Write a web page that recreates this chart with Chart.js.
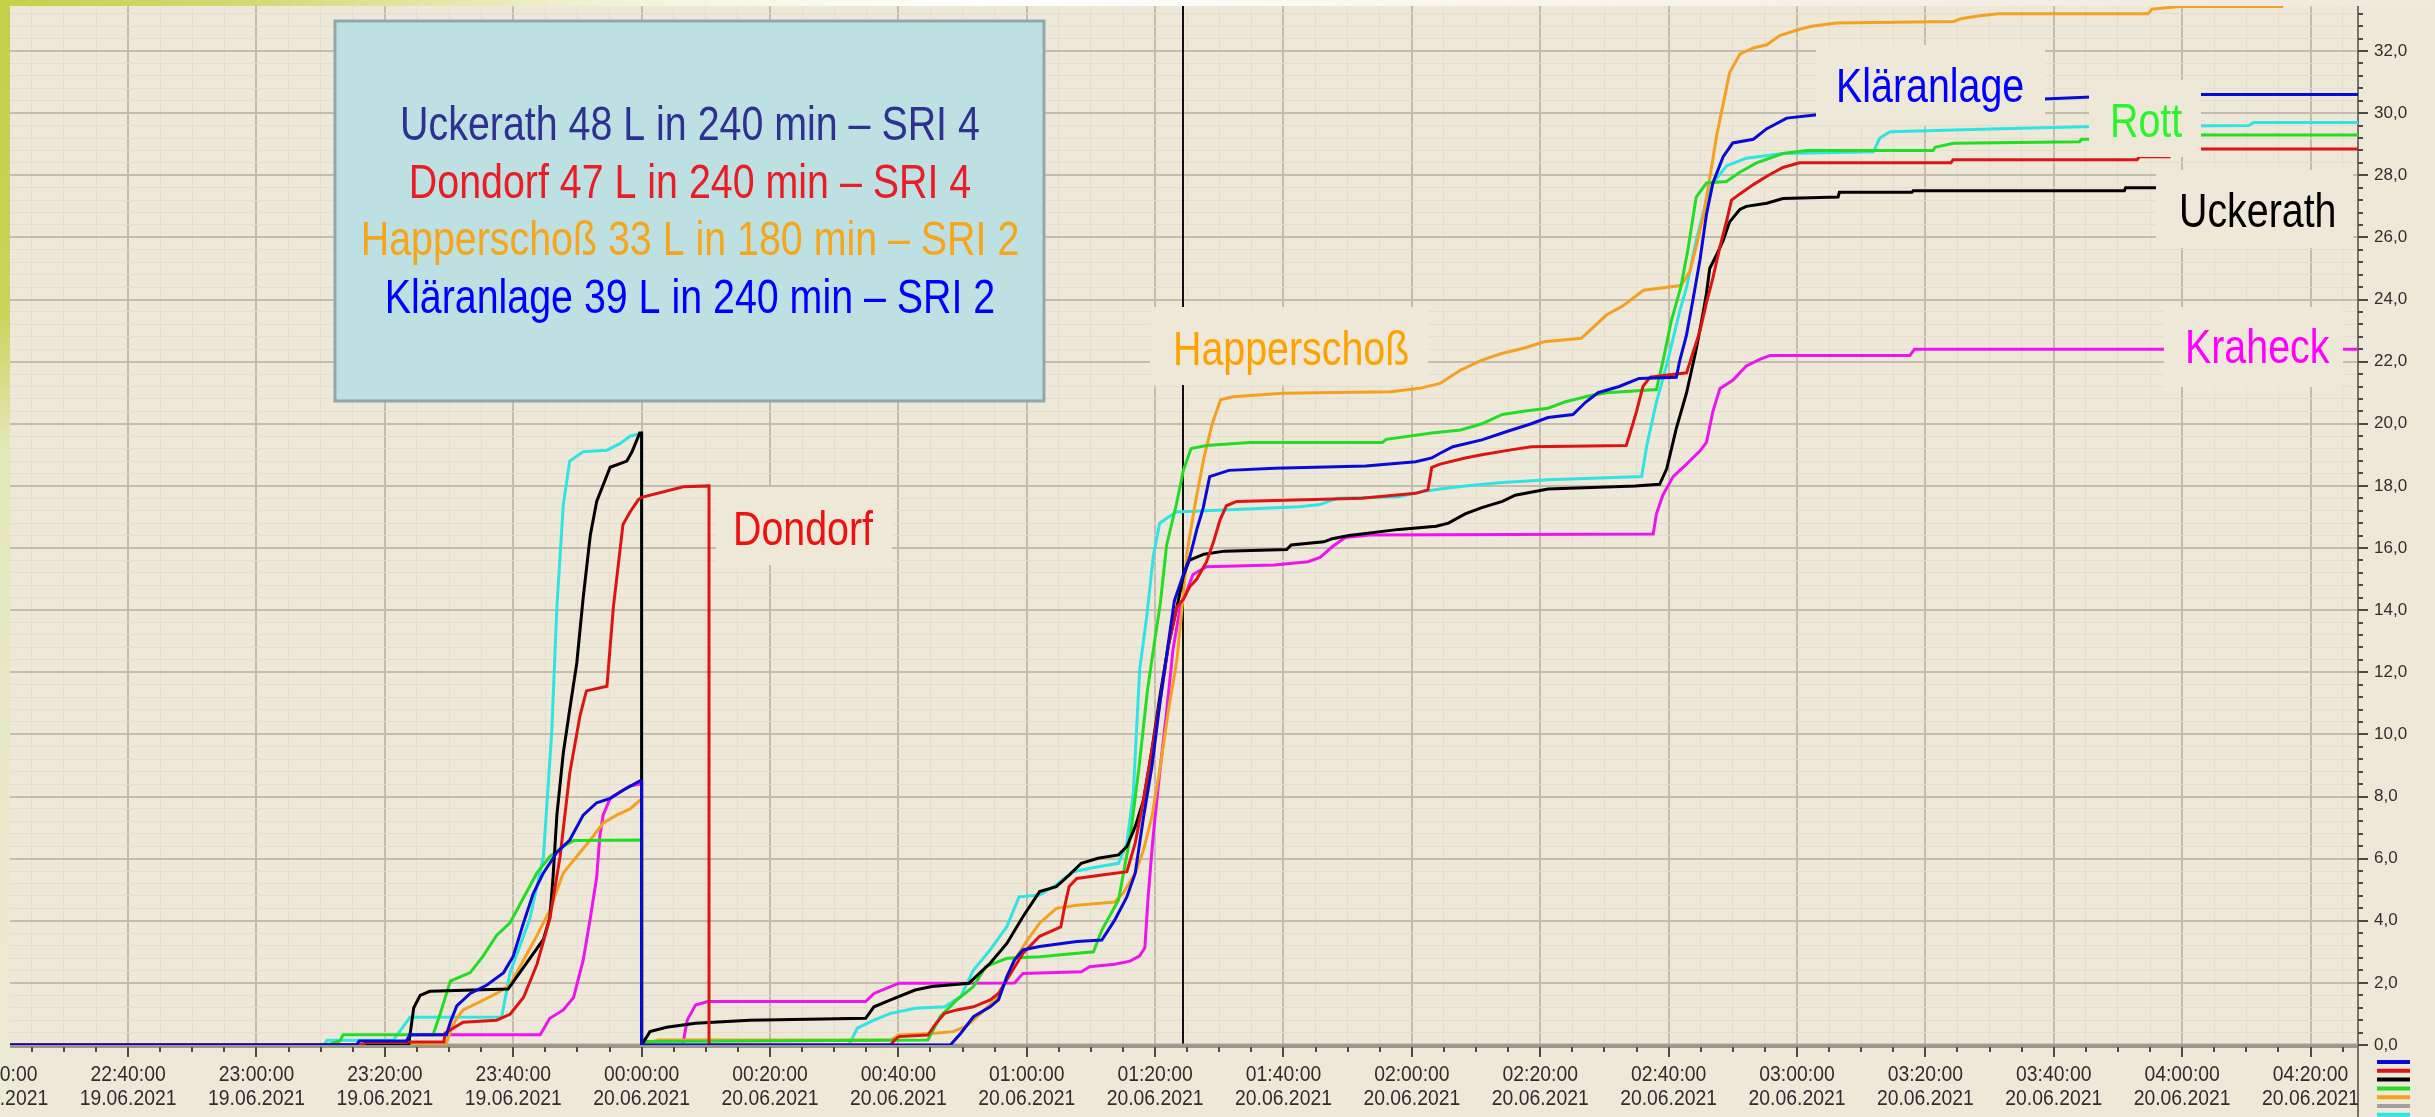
<!DOCTYPE html>
<html>
<head>
<meta charset="utf-8">
<title>Niederschlag 19./20.06.2021</title>
<script src="https://cdn.jsdelivr.net/npm/chart.js@4.4.1/dist/chart.umd.min.js"></script>
<style>
  html, body { margin: 0; padding: 0; background: #eee8d9; overflow: hidden; }
  #wrap { width: 2435px; height: 1117px; }
</style>
</head>
<body>
<div id="wrap"><canvas id="chart" width="2435" height="1117"></canvas></div>
<script>
// Zeit = Minuten relativ zu 20.06.2021 00:00 (negativ = 19.06.), Wert = Summe in mm
const klaeranlage = [[-98.4,0],[-44.4,0],[-44,0.13],[-36.6,0.13],[-36.1,0.33],[-30.4,0.33],[-29.8,0.73],[-28.8,1.26],[-26.7,1.66],[-24.1,1.93],[-21.5,2.33],[-20,2.86],[-18.4,3.93],[-16.9,4.87],[-15.3,5.54],[-13.2,6.2],[-11.2,6.6],[-9.1,7.4],[-7,7.8],[-4.9,7.94],[-2.9,8.2],[-0.3,8.5],[0,8.5],[0,0],[48.1,0],[49.7,0.37],[51.7,0.91],[54.3,1.23],[55.6,1.45],[56.9,2.2],[58.1,2.74],[59.4,3.06],[62,3.17],[67.8,3.33],[71.7,3.38],[73.7,4.02],[75.6,4.77],[76.9,5.53],[78.2,7.35],[79.5,8.96],[80.8,11.1],[82.1,13],[83,14.3],[84.4,15.15],[85.4,15.7],[86.5,16.6],[87.5,17.3],[88.5,18.3],[91.5,18.5],[98.6,18.57],[112.8,18.64],[120.6,18.78],[123.1,18.9],[124.4,19.05],[126.4,19.26],[130.9,19.48],[134.8,19.75],[138.6,20],[141.2,20.2],[145.1,20.3],[147.1,20.7],[149,21],[152.3,21.2],[155.4,21.46],[161.2,21.5],[161.7,22],[162.8,22.87],[163.8,24],[164.9,25.3],[165.9,26.75],[166.9,27.75],[168.5,28.6],[170,29.04],[173.2,29.16],[175.3,29.5],[178.4,29.84],[182.8,29.94],[190,30],[200,30.2],[212,30.4],[235,30.6],[267.4,30.6]];

const dondorf = [[-98.4,0],[-43.3,0],[-43,0.1],[-30.8,0.1],[-30.6,0.39],[-27.8,0.73],[-22.6,0.8],[-20.5,0.99],[-18.4,1.53],[-16.3,2.6],[-14.3,4.07],[-12.7,6.07],[-11.2,8.74],[-9.6,10.6],[-8.6,11.4],[-5.4,11.55],[-4.4,14.1],[-2.9,16.76],[-1.8,17.16],[-0.5,17.56],[0,17.63],[6.5,17.97],[10.5,18],[10.5,0],[38.8,0],[39.4,0.16],[40.1,0.27],[44.6,0.32],[45.9,0.7],[47.2,1.02],[49.1,1.13],[51.7,1.23],[54.3,1.45],[55.6,1.66],[57.5,2.3],[59.4,2.95],[62,3.5],[65.3,3.8],[65.9,4.45],[66.6,5.1],[67.8,5.36],[71.7,5.47],[75.6,5.58],[76.9,6.5],[78.2,7.9],[79.5,9.5],[80.8,11.1],[82.1,12.9],[83.4,14.1],[84.4,14.35],[85.4,14.75],[86.5,15],[88,15.55],[89.1,16.2],[90.1,16.9],[91.1,17.36],[92.7,17.5],[112.2,17.6],[120.6,17.76],[122.5,17.87],[123.1,18.6],[124.4,18.7],[128.3,18.9],[130.9,19],[135.4,19.16],[138.6,19.26],[153.4,19.3],[154,19.7],[155,20.4],[156,21.2],[157.1,21.5],[162.8,21.64],[163.8,22.3],[164.9,23],[165.9,23.9],[166.9,24.7],[168,25.7],[169,26.5],[169.8,27.2],[171.1,27.4],[173.2,27.7],[175.3,27.97],[177.8,28.25],[180.4,28.4],[204,28.4],[204.3,28.5],[233,28.5],[233.3,28.6],[238,28.6],[238.3,28.85],[267.4,28.85]];

const uckerath = [[-98.4,0],[-36.3,0],[-35.5,1.2],[-34.5,1.6],[-33,1.73],[-20.8,1.8],[-18.4,2.5],[-15.3,3.4],[-14.3,4.1],[-13.8,5.4],[-13.2,7.4],[-12.2,9.4],[-11.2,10.8],[-10.1,12.3],[-9.1,14.4],[-8,16.4],[-7,17.5],[-4.9,18.6],[-2.3,18.8],[-1.5,19.1],[-0.3,19.7],[0,19.7],[0,0],[1.3,0.43],[3.9,0.57],[8.4,0.7],[16.8,0.8],[34.9,0.86],[36.2,1.23],[38.8,1.45],[42.6,1.77],[45.2,1.88],[51,1.99],[54.3,2.63],[56.9,3.27],[59.4,4.13],[62,4.94],[64.6,5.1],[66.6,5.47],[68.5,5.85],[71.1,6.01],[74.3,6.12],[75.6,6.39],[76.9,7.03],[78.2,7.89],[79.5,9.5],[80.8,11.3],[82.1,12.9],[83.4,14.1],[84.4,15.1],[85.3,15.6],[87.6,15.8],[90.8,15.9],[100.5,15.95],[101.2,16.1],[106.3,16.2],[107.6,16.3],[110.2,16.4],[118,16.6],[123.8,16.7],[125.7,16.8],[128.3,17.1],[130.9,17.3],[134.1,17.5],[136.1,17.7],[141.2,17.9],[154.8,18],[158.6,18.05],[159.7,18.55],[161.2,19.85],[162.8,21],[164.3,22.4],[165.4,23.6],[165.9,24.2],[166.4,25],[167.5,25.45],[168.5,25.9],[169.5,26.5],[171.1,26.9],[172.1,27],[175.3,27.1],[177.8,27.25],[186.4,27.3],[186.6,27.45],[197.9,27.45],[198.1,27.5],[231,27.5],[231.2,27.6],[242,27.6]];

const rott = [[-98.4,0],[-49,0],[-47,0.13],[-46.5,0.33],[-32.5,0.33],[-31.4,0.99],[-29.8,2.06],[-26.7,2.33],[-24.7,2.86],[-22.6,3.53],[-20.5,3.93],[-18.4,4.74],[-16.3,5.54],[-14.3,6.07],[-12.2,6.4],[-10.6,6.58],[0,6.6],[0,0],[0.6,0.11],[44.6,0.16],[46.5,0.91],[49.1,1.45],[51.7,1.88],[53.6,2.52],[56.9,2.79],[62,2.84],[70.4,3],[71.7,3.7],[74.3,4.67],[76.2,6.8],[77.5,8.96],[78.8,11.4],[80.1,13.25],[80.8,14.2],[81.8,16.1],[83.3,17.4],[84.4,18.5],[85.6,19.2],[88,19.3],[94.7,19.4],[115.4,19.4],[116,19.5],[123.1,19.7],[127.6,19.8],[130.9,20],[134.1,20.3],[137.4,20.4],[141.2,20.5],[143.8,20.7],[147.7,20.9],[150.3,21],[158.1,21.1],[159.2,22.1],[160.4,23.3],[161.9,24.4],[163,25.6],[164.3,27.3],[165.9,27.75],[169,27.8],[171.1,28.1],[173.7,28.4],[177.8,28.7],[181.5,28.8],[201.2,28.8],[201.5,28.9],[204.4,29.03],[224,29.08],[224.3,29.16],[230,29.16],[230.3,29.3],[267.4,29.3]];

const happerschoss = [[-98.4,0],[-30.5,0],[-29.5,0.6],[-28.8,0.86],[-27.8,1.13],[-25.2,1.39],[-22.6,1.66],[-20.5,1.93],[-18.4,2.73],[-16.3,3.53],[-14.3,4.33],[-12.2,5.54],[-10.1,6.07],[-8,6.6],[-6,7.14],[-3.9,7.4],[-1.8,7.6],[-0.3,7.87],[0,7.87],[0,0],[2.6,0.16],[38.8,0.16],[40.1,0.32],[45.2,0.37],[48.5,0.43],[50.4,0.59],[51.7,0.8],[55.6,1.56],[58.1,2.74],[60.1,3.38],[62,3.92],[64.6,4.4],[67.8,4.5],[73.7,4.6],[75,4.88],[76.9,5.53],[78.2,6.28],[79.5,7.35],[80.8,8.96],[82.1,10.8],[83.4,12.4],[84.3,14.3],[85,15.9],[86.3,17.5],[87.6,18.9],[88.9,20],[90.2,20.77],[92.1,20.87],[99.9,20.98],[116.7,21.03],[121.2,21.14],[124.4,21.3],[127.6,21.73],[130.9,22.05],[134.1,22.27],[137.4,22.43],[140.6,22.64],[146.4,22.75],[147.7,23],[150.3,23.5],[152.9,23.8],[156.1,24.3],[161.9,24.45],[163.3,24.9],[164.3,25.7],[165.4,26.7],[166.4,27.9],[167.5,29.3],[168.5,30.3],[169.5,31.3],[171.1,31.9],[173.2,32.1],[175.3,32.2],[177.3,32.5],[180.4,32.7],[182.3,32.8],[186.1,32.9],[204.4,32.95],[205.7,33.05],[208.2,33.13],[211.3,33.2],[234.7,33.2],[235.3,33.35],[239.7,33.43],[255.5,33.43],[256,33.8],[267.4,33.8]];

const grauReihe = [[-98.4,0],[267.4,0]];

const tuerkisReihe = [[-98.4,0],[-49.5,0],[-49,0.15],[-38.7,0.15],[-36.1,0.89],[-21.8,0.9],[-20.5,2.33],[-17.4,4.07],[-15.3,6.07],[-14,10.08],[-13.2,14.1],[-12.2,17.4],[-11.2,18.8],[-9.1,19.1],[-5.4,19.15],[-3.4,19.36],[-1.8,19.6],[0,19.7],[0,0],[32.3,0],[33.6,0.54],[36.2,0.8],[38.8,1.02],[42.6,1.18],[47.2,1.23],[49.7,1.56],[51.7,2.41],[54.3,3.06],[56.9,3.81],[58.8,4.77],[62,4.83],[64.6,5.15],[67.2,5.58],[71.1,5.74],[74.3,5.85],[75.6,6.5],[76.6,8.1],[77.6,12.1],[78.7,13.8],[79.7,15.7],[80.7,16.8],[81.8,16.96],[83.3,17.16],[102.5,17.33],[105.7,17.4],[108.3,17.6],[118,17.65],[121.2,17.8],[124.4,17.9],[128.3,18],[133.5,18.1],[141.2,18.2],[155.8,18.3],[156.6,19.3],[158.1,20.7],[159.7,21.9],[161.7,23.6],[162.8,24.4],[164.3,25.9],[165.9,27.2],[166.9,27.75],[169,28.3],[172.1,28.55],[177.8,28.7],[191.9,28.76],[192.9,29.2],[194.5,29.4],[211.6,29.5],[224.6,29.56],[250.4,29.6],[251.1,29.7],[267.4,29.7]];

const kraheck = [[-98.4,0],[-37,0],[-36.1,0.33],[-15.8,0.33],[-14.3,0.86],[-12.2,1.13],[-10.6,1.53],[-9.1,2.73],[-8,4.07],[-7,5.4],[-6.5,6.74],[-6,7.4],[-4.9,7.94],[-3.4,8.14],[-1.8,8.34],[-0.3,8.4],[0,8.4],[0,0],[6.4,0],[7.1,0.8],[8.4,1.29],[10.3,1.4],[34.9,1.4],[36.2,1.66],[38.8,1.88],[40.1,1.99],[58.1,2],[59.4,2.3],[68.5,2.36],[69.8,2.52],[73.7,2.6],[76.1,2.7],[77.6,2.87],[78.4,3.13],[78.9,4.74],[79.7,6.74],[80.7,8.74],[81.8,10.75],[82.8,12.75],[83.9,14.09],[84.9,14.6],[85.9,15.15],[88,15.4],[98.6,15.45],[103.8,15.56],[105.7,15.7],[107.6,16.04],[109.6,16.34],[113.4,16.42],[157.6,16.45],[158.1,17.1],[159.1,17.7],[160.7,18.3],[162.8,18.7],[164.9,19.13],[165.9,19.4],[166.9,20.4],[168,21.14],[170,21.4],[172.1,21.86],[174.2,22.07],[175.8,22.2],[197.6,22.2],[198.3,22.4],[267.4,22.4]];

const xTickTimes = ['22:20:00','22:40:00','23:00:00','23:20:00','23:40:00','00:00:00','00:20:00','00:40:00','01:00:00','01:20:00','01:40:00','02:00:00','02:20:00','02:40:00','03:00:00','03:20:00','03:40:00','04:00:00','04:20:00'];
const xTickDates = ['19.06.2021','19.06.2021','19.06.2021','19.06.2021','19.06.2021','20.06.2021','20.06.2021','20.06.2021','20.06.2021','20.06.2021','20.06.2021','20.06.2021','20.06.2021','20.06.2021','20.06.2021','20.06.2021','20.06.2021','20.06.2021','20.06.2021'];
const yTickLabels = ['0,0','2,0','4,0','6,0','8,0','10,0','12,0','14,0','16,0','18,0','20,0','22,0','24,0','26,0','28,0','30,0','32,0','34,0'];

const summaryLines = [
  ['Uckerath 48 L in 240 min \u2013 SRI 4', '#2e3192'],
  ['Dondorf 47 L in 240 min \u2013 SRI 4', '#ea1c24'],
  ['Happerscho\u00df 33 L in 180 min \u2013 SRI 2', '#f7a519'],
  ['Kl\u00e4ranlage 39 L in 240 min \u2013 SRI 2', '#0000ff']
];

const cursorTime = ['01:24:20', '20.06.2021'];

const BG = '#eee8d9';
const GRID_MAJOR = '#c4bcad';
const GRID_MINOR = '#e5ded0';
const FONT = '"Liberation Sans", Arial, Helvetica, sans-serif';

function toMinutes(time, date) {
  const p = time.split(':').map(Number);
  return p[0] * 60 + p[1] + (p[2] || 0) / 60 - (date === '19.06.2021' ? 1440 : 0);
}

function isMult(v, step) {
  return Math.abs(v / step - Math.round(v / step)) < 1e-6;
}

// Text leicht schmal gezogen, wie die Schrift im Original
function narrowText(ctx, text, x, y, size, color, align, squeeze, baseline) {
  ctx.save();
  ctx.font = size + 'px ' + FONT;
  ctx.fillStyle = color;
  ctx.textAlign = align;
  ctx.textBaseline = baseline || 'alphabetic';
  ctx.translate(x, y);
  ctx.scale(squeeze, 1);
  ctx.fillText(text, 0, 0);
  ctx.restore();
}

const series = [
  { label: 'Kläranlage', data: klaeranlage, color: '#0a0ad6' },
  { label: 'Dondorf', data: dondorf, color: '#dd1414' },
  { label: 'Uckerath', data: uckerath, color: '#000000' },
  { label: 'Rott', data: rott, color: '#22dd22' },
  { label: 'Happerschoß', data: happerschoss, color: '#f5a020' },
  { label: 'grau', data: grauReihe, color: '#a0a0a0' },
  { label: 'türkis', data: tuerkisReihe, color: '#2ee4e4' },
  { label: 'Kraheck', data: kraheck, color: '#ee14ee' }
];

// Beschriftungen mit Hintergrundkasten (Pixel im Bild)
const nameLabels = [
  { text: 'Dondorf', color: '#ee1111', box: [716, 487, 176, 78], tx: 733, ty: 545 },
  { text: 'Happerscho\u00df', color: '#ffa200', box: [1150, 307, 278, 78], tx: 1173, ty: 365 },
  { text: 'Kl\u00e4ranlage', color: '#0000ff', box: [1816, 45, 229, 80], tx: 1836, ty: 102 },
  { text: 'Rott', color: '#2af52a', box: [2089, 80, 112, 77], tx: 2110, ty: 137 },
  { text: 'Uckerath', color: '#000000', box: [2156, 170, 197, 78], tx: 2179, ty: 227 },
  { text: 'Kraheck', color: '#ff00ff', box: [2164, 307, 179, 80], tx: 2185, ty: 363 }
];

const decor = {
  id: 'decor',
  beforeDraw(chart) {
    const { ctx, width, height, chartArea: ca } = chart;
    ctx.save();
    ctx.fillStyle = BG;
    ctx.fillRect(0, 0, width, height);
    let g = ctx.createLinearGradient(0, 0, width, 0);
    g.addColorStop(0, '#c4d04a');
    g.addColorStop(0.1, '#d2da72');
    g.addColorStop(0.25, '#f1f3d8');
    g.addColorStop(0.4, '#ffffff');
    g.addColorStop(0.6, '#f8f6ee');
    g.addColorStop(1, '#efe9dc');
    ctx.fillStyle = g;
    ctx.fillRect(0, 0, width, ca.top);
    g = ctx.createLinearGradient(0, 0, 0, height);
    g.addColorStop(0, '#c4d04a');
    g.addColorStop(0.28, '#c9d45a');
    g.addColorStop(0.4, '#e3e8b8');
    g.addColorStop(1, '#ecebd8');
    ctx.fillStyle = g;
    ctx.fillRect(0, 0, ca.left, height);
    ctx.restore();
  },
  beforeDatasetsDraw(chart) {
    const { ctx, height, chartArea: ca } = chart;
    const xs = chart.scales.x;
    ctx.save();
    // Achsenlinien
    ctx.strokeStyle = '#9d978a';
    ctx.lineWidth = 4;
    ctx.beginPath();
    ctx.moveTo(ca.left, ca.bottom + 1);
    ctx.lineTo(ca.right, ca.bottom + 1);
    ctx.stroke();
    ctx.strokeStyle = '#77726a';
    ctx.lineWidth = 2;
    ctx.beginPath();
    ctx.moveTo(ca.right, ca.top);
    ctx.lineTo(ca.right, height);
    ctx.stroke();
    // Cursorlinie
    const cx = Math.round(xs.getPixelForValue(toMinutes(cursorTime[0], cursorTime[1])));
    ctx.strokeStyle = '#111111';
    ctx.lineWidth = 2;
    ctx.beginPath();
    ctx.moveTo(cx, ca.top);
    ctx.lineTo(cx, ca.bottom);
    ctx.stroke();
    ctx.restore();
  },
  afterDatasetsDraw(chart) {
    const { ctx, chartArea: ca } = chart;
    const xs = chart.scales.x, ys = chart.scales.y;
    ctx.save();

    // Namensschilder
    nameLabels.forEach(l => {
      ctx.fillStyle = BG;
      ctx.fillRect(l.box[0], l.box[1], l.box[2], l.box[3]);
      narrowText(ctx, l.text, l.tx, l.ty, 48, l.color, 'left', 0.82);
    });

    // Infokasten
    ctx.fillStyle = '#bde0e3';
    ctx.fillRect(335, 21, 709, 380);
    ctx.strokeStyle = '#8fa8ac';
    ctx.lineWidth = 3;
    ctx.strokeRect(335, 21, 709, 380);
    summaryLines.forEach((s, i) => {
      narrowText(ctx, s[0], 690, 140 + i * 57.5, 48, s[1], 'center', 0.82);
    });

    // x-Ticks
    ctx.strokeStyle = '#4e4a43';
    ctx.lineWidth = 2;
    for (let v = -95; v <= 265; v += 5) {
      const px = Math.round(xs.getPixelForValue(v));
      const len = isMult(v, 20) ? 10 : 5;
      ctx.beginPath();
      ctx.moveTo(px, ca.bottom + 2);
      ctx.lineTo(px, ca.bottom + 2 + len);
      ctx.stroke();
    }
    xTickTimes.forEach((t, i) => {
      const px = xs.getPixelForValue(toMinutes(t, xTickDates[i]));
      narrowText(ctx, t, px, 1075, 22, '#2e2e2e', 'center', 0.88, 'middle');
      narrowText(ctx, xTickDates[i], px, 1099, 22, '#2e2e2e', 'center', 0.88, 'middle');
    });

    // y-Ticks
    for (let i = 0; i * 0.4 <= ys.max; i++) {
      const py = Math.round(ys.getPixelForValue(i * 0.4));
      const len = i % 5 === 0 ? 10 : 5;
      ctx.beginPath();
      ctx.moveTo(ca.right, py);
      ctx.lineTo(ca.right + len, py);
      ctx.stroke();
    }
    yTickLabels.forEach((t, i) => {
      const py = ys.getPixelForValue(i * 2);
      narrowText(ctx, t, ca.right + 16, py, 17, '#2e2e2e', 'left', 1, 'middle');
    });

    // kleine Legende unten rechts
    chart.data.datasets.slice(0, 7).forEach((d, i) => {
      ctx.strokeStyle = d.borderColor;
      ctx.lineWidth = 4;
      ctx.beginPath();
      ctx.moveTo(ca.right + 19, 1062 + i * 8.8);
      ctx.lineTo(ca.right + 52, 1062 + i * 8.8);
      ctx.stroke();
    });
    ctx.restore();
  }
};

new Chart(document.getElementById('chart'), {
  type: 'line',
  data: {
    datasets: series.map(s => ({
      label: s.label,
      data: s.data.map(p => ({ x: p[0], y: p[1] })),
      borderColor: s.color,
      backgroundColor: s.color,
      borderWidth: 3,
      pointRadius: 0,
      fill: false,
      tension: 0
    }))
  },
  options: {
    responsive: false,
    devicePixelRatio: 1,
    animation: false,
    events: [],
    layout: { padding: { left: 10, top: 6, right: 0, bottom: 0 } },
    plugins: { legend: { display: false }, tooltip: { enabled: false } },
    scales: {
      x: {
        type: 'linear',
        min: -98.4,
        max: 267.4,
        afterBuildTicks: s => {
          const t = [];
          for (let v = -95; v <= 265; v += 5) t.push({ value: v });
          s.ticks = t;
        },
        afterFit: s => { s.height = 72; },
        ticks: { display: false },
        border: { display: false },
        grid: {
          drawTicks: false,
          color: c => (c.tick && isMult(c.tick.value, 20)) ? GRID_MAJOR : GRID_MINOR,
          lineWidth: c => (c.tick && isMult(c.tick.value, 20)) ? 2 : 1
        }
      },
      y: {
        position: 'right',
        min: 0,
        max: 33.45,
        afterBuildTicks: s => {
          const t = [];
          for (let i = 0; i * 0.4 <= 33.45; i++) t.push({ value: i * 0.4 });
          s.ticks = t;
        },
        afterFit: s => { s.width = 77; },
        ticks: { display: false },
        border: { display: false },
        grid: {
          drawTicks: false,
          color: c => (c.index % 5 === 0) ? GRID_MAJOR : GRID_MINOR,
          lineWidth: c => (c.index % 5 === 0) ? 2 : 1
        }
      }
    }
  },
  plugins: [decor]
});
</script>
</body>
</html>
